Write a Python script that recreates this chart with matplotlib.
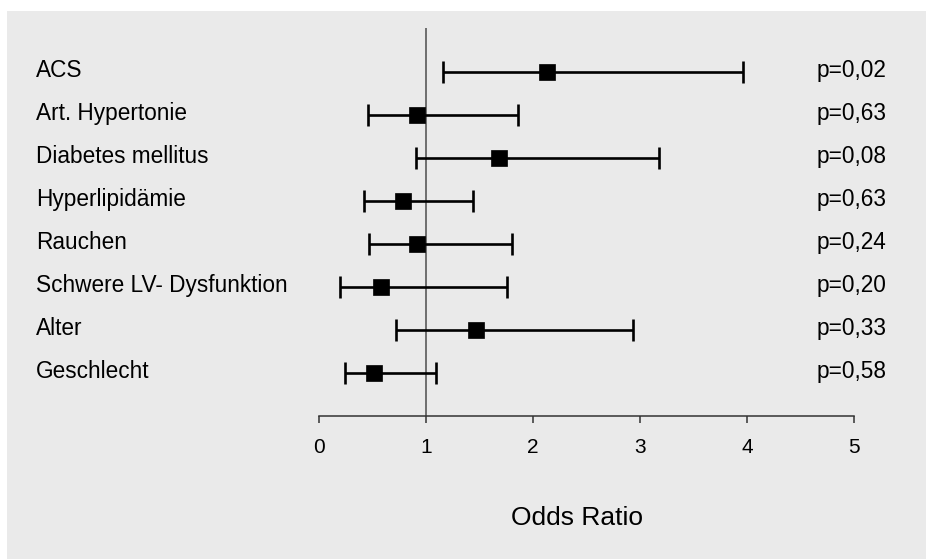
import matplotlib.pyplot as plt
import matplotlib.transforms as mtransforms
from matplotlib.patches import Rectangle

plt.rcParams['font.family'] = ['Liberation Sans', 'DejaVu Sans']

# Werte aus dem Diagramm
labels = ['ACS', 'Art. Hypertonie', 'Diabetes mellitus', 'Hyperlipidämie',
          'Rauchen', 'Schwere LV- Dysfunktion', 'Alter', 'Geschlecht']
odds = [2.13, 0.91, 1.68, 0.785, 0.91, 0.58, 1.46, 0.51]
ci_low = [1.16, 0.45, 0.90, 0.42, 0.46, 0.19, 0.72, 0.24]
ci_high = [3.96, 1.855, 3.18, 1.44, 1.80, 1.755, 2.93, 1.09]
pvals = ['p=0,02', 'p=0,63', 'p=0,08', 'p=0,63', 'p=0,24', 'p=0,20', 'p=0,33', 'p=0,58']
xticks = [0, 1, 2, 3, 4, 5]

W, H = 926, 559
fig = plt.figure(figsize=(W / 100, H / 100), dpi=100, facecolor='white')

# grauer Hintergrund
fig.patches.append(Rectangle((7 / W, 0), 1 - 7 / W, 1 - 11 / H,
                             transform=fig.transFigure, facecolor='#eaeaea',
                             edgecolor='none', zorder=-10))

x0, x5 = 319.4, 854.0
y_top, y_bot = 28, 416
ax = fig.add_axes([x0 / W, 1 - y_bot / H, (x5 - x0) / W, (y_bot - y_top) / H])
ax.set_facecolor('none')

rows = list(range(len(labels)))
err = [[o - l for o, l in zip(odds, ci_low)], [h - o for o, h in zip(odds, ci_high)]]

ax.axvline(1, color='#4d4d4d', lw=1.1, zorder=1)
ax.errorbar(odds, rows, xerr=err, fmt='none', ecolor='black',
            elinewidth=1.9, capsize=7.7, capthick=1.9, zorder=3)
ax.plot(odds, rows, 's', color='black', markersize=12, mec='black', mew=0.5,
        linestyle='none', zorder=4)

ax.set_xlim(0, 5)
ax.set_ylim(7.99, -1.03)
ax.set_xticks(xticks)
ax.set_xticklabels([str(t) for t in xticks], fontsize=15)
ax.set_yticks([])
for s in ['left', 'top', 'right']:
    ax.spines[s].set_visible(False)
ax.spines['bottom'].set_color('#333333')
ax.spines['bottom'].set_linewidth(1.1)
ax.tick_params(axis='x', direction='out', length=5, width=1.1, color='#333333', pad=11)

tr = mtransforms.blended_transform_factory(fig.transFigure, ax.transData)
for r, lab, p in zip(rows, labels, pvals):
    ax.text(36 / W, r - 0.05, lab, transform=tr, ha='left', va='center', fontsize=16.3)
    ax.text(817 / W, r - 0.05, p, transform=tr, ha='left', va='center', fontsize=16.3)

fig.text(577 / W, 1 - 518 / H, 'Odds Ratio', ha='center', va='center', fontsize=19)

fig.savefig('out.png', dpi=100)
